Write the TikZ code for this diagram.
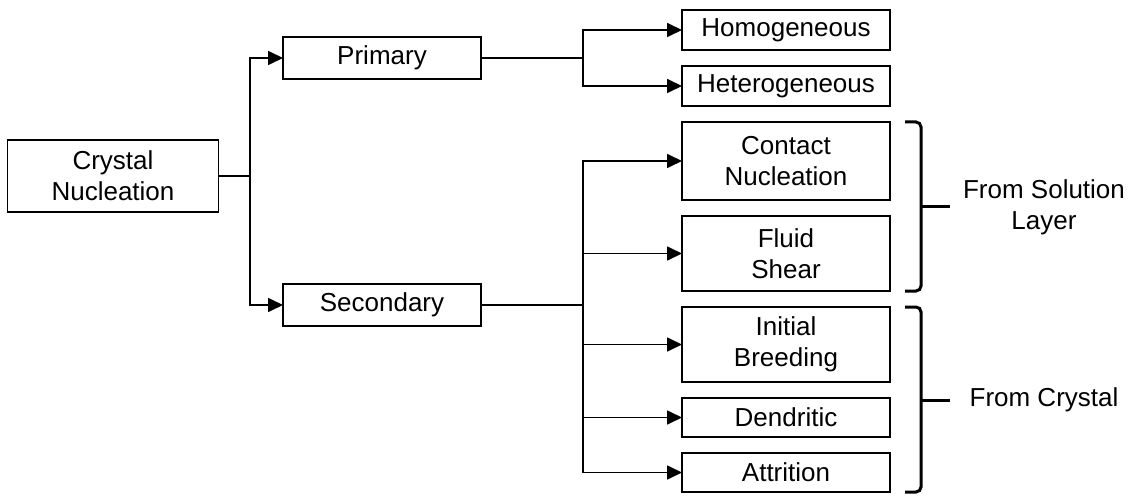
\documentclass[tikz,border=0pt]{standalone}
\usepackage{fontspec}
\setmainfont{Liberation Sans}
\usepackage{tikz}
\usetikzlibrary{positioning}
\usetikzlibrary{arrows.meta}

\tikzset{
  box/.style={draw, line width=1.7pt, outer sep=0pt, inner sep=2pt, align=center,
    font=\fontsize{26}{31}\selectfont, text centered},
  leaf/.style={box, minimum width=208pt},
  arr/.style={-{Triangle[length=15pt,width=14pt]}, line width=1.7pt},
  bracket/.style={line width=3pt, rounded corners=5pt},
}

\begin{document}
\begin{tikzpicture}[x=1pt, y=-1pt]
  \useasboundingbox (0,0) rectangle (1140,497);
  % nodes %
  \node[box, minimum width=211pt, minimum height=72pt] (cn) at (113,176) {Crystal\\Nucleation};
  \node[box, minimum width=198pt, minimum height=42pt] (prim) at (382,58) {Primary};
  \node[box, minimum width=198pt, minimum height=42pt] (sec) at (382,305) {Secondary};
  \node[leaf, minimum height=40pt] (hom) at (786,30) {Homogeneous};
  \node[leaf, minimum height=40pt, below=16pt of hom] (het) {Heterogeneous};
  \node[leaf, minimum height=78pt, below=16pt of het] (cont) {Contact\\Nucleation};
  \node[leaf, minimum height=75pt, below=16pt of cont] (flu) {Fluid\\Shear};
  \node[leaf, minimum height=75pt, below=16pt of flu] (init) {Initial\\Breeding};
  \node[leaf, minimum height=39pt, below=16pt of init] (den) {Dendritic};
  \node[leaf, minimum height=39pt, below=16pt of den] (att) {Attrition};
  \node[font=\fontsize{26}{31}\selectfont, align=center] (sol) at (1044,207) {From Solution\\Layer};
  \node[font=\fontsize{26}{31}\selectfont] (cry) at (1044,400) {From Crystal};
  % junctions %
  \coordinate (j1) at (250,176);
  \coordinate (j2) at (583,58);
  \coordinate (j3) at (583,305);
  % edges %
  \draw[line width=1.7pt] (cn.east) -- (j1);
  \draw[arr] (j1) |- (prim);
  \draw[arr] (j1) |- (sec);
  \draw[line width=1.7pt] (prim.east) -- (j2);
  \draw[arr] (j2) |- (hom);
  \draw[arr] (j2) |- (het);
  \draw[line width=1.7pt] (sec.east) -- (j3);
  \draw[arr] (j3) |- (cont);
  \draw[arr] (j3) |- (flu);
  \draw[arr] (j3) |- (init);
  \draw[arr] (j3) |- (den);
  \draw[arr] (j3) |- (att);
  % brackets %
  \draw[bracket] (905,122) -- (921,122) -- (921,291) -- (905,291);
  \draw[line width=3pt] (921,207) -- (950,207);
  \draw[bracket] (905,307) -- (921,307) -- (921,492) -- (905,492);
  \draw[line width=3pt] (921,400) -- (950,400);
\end{tikzpicture}
\end{document}
